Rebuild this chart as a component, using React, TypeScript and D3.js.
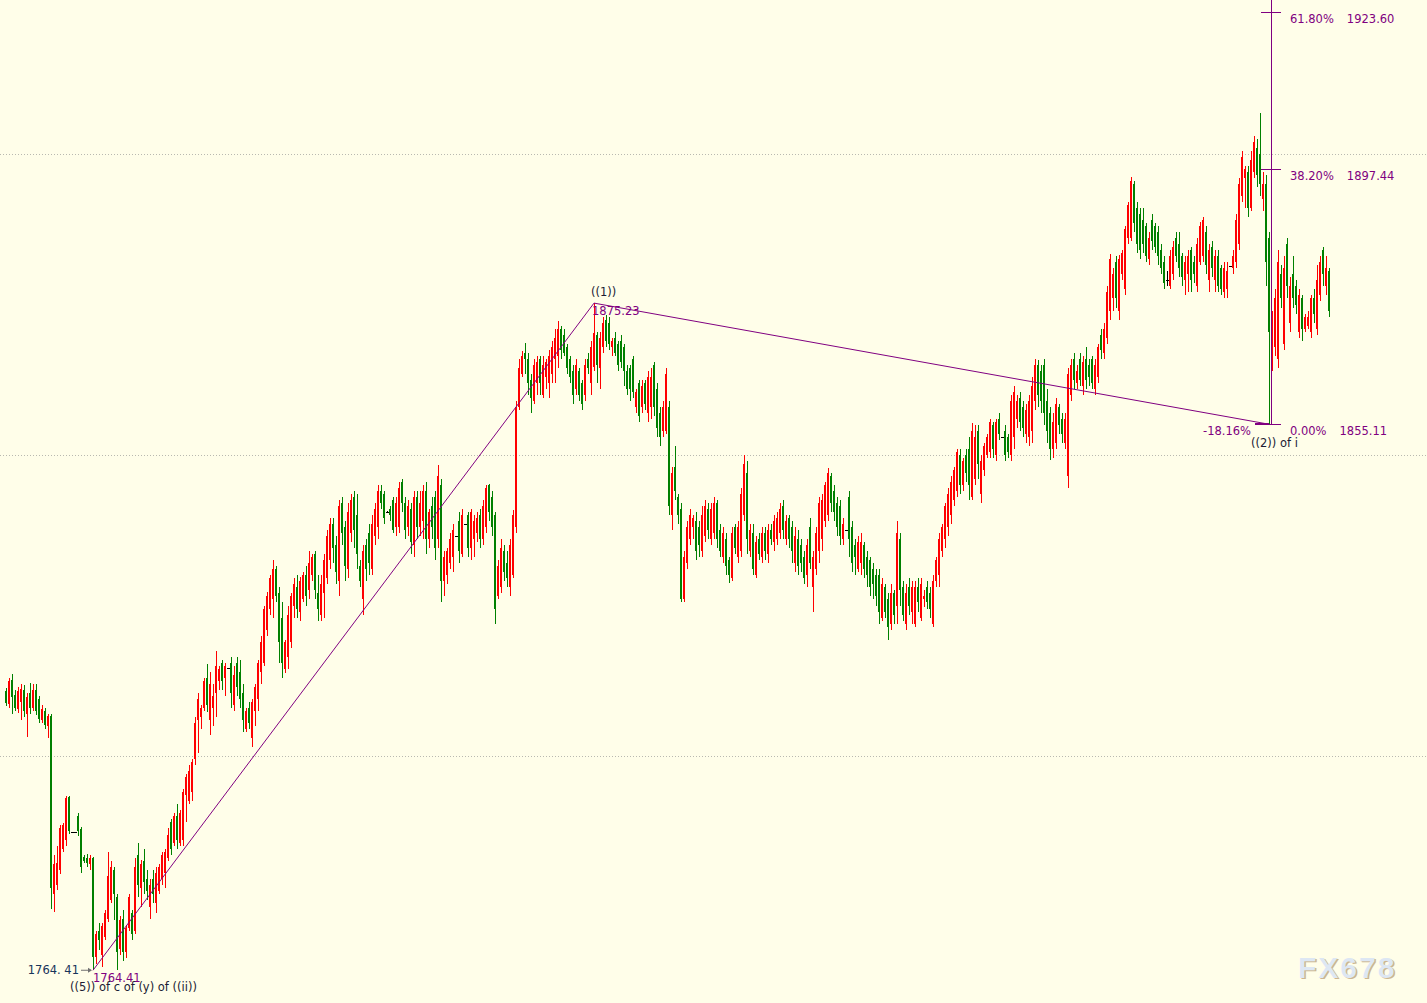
import React from "react";
import * as d3 from "d3";

// candle data (price units)
const opens = [
  1810.8, 1808.6, 1812.6, 1810.2, 1807.8, 1809.0, 1811.0, 1807.0, 1810.5, 1808.0, 1811.0, 1809.5, 1806.0, 1807.5, 1805.0, 1806.6,
  1777, 1778.5, 1781, 1784.5, 1786, 1793.2, 1787.4, 1787.4, 1790, 1787.8, 1783.3, 1783, 1782, 1783,
  1766.6, 1771.0, 1767.0, 1770.0, 1773.0, 1776.0, 1781.0, 1776.5, 1768.0, 1773.0, 1767.5, 1771.5, 1774.0, 1771.0, 1783.5, 1778.0, 1782.5, 1779.5, 1775.0, 1779.5, 1775.5, 1777.5, 1779.5, 1780.5, 1783.0, 1789.0, 1785.5, 1790.0, 1785.5, 1786.0, 1793.5, 1792.5, 1794.0, 1799.5, 1806.0,
  1806.5, 1808, 1813, 1806, 1808, 1810.5, 1812.5, 1815.5, 1813, 1814.6, 1815.5, 1808.5, 1815.5, 1814, 1810.5, 1804.5, 1808, 1803, 1807.5, 1809.5, 1814, 1815.5, 1821, 1824.5, 1826, 1831, 1827, 1823, 1814.5, 1816.5, 1819, 1825, 1828, 1824, 1826, 1830, 1827.5, 1830, 1833.5, 1827, 1823.5, 1827, 1829.5, 1832.5, 1838.5, 1835, 1829, 1842, 1838, 1831, 1837, 1843, 1840, 1831.5, 1826, 1835, 1837, 1831, 1836.5, 1838,
  1844, 1843.5, 1840.5, 1841, 1842.5, 1838, 1838, 1845.5, 1842, 1838, 1841, 1835, 1843, 1838, 1839, 1844, 1836, 1841.5, 1843, 1836, 1845, 1829, 1830, 1832, 1833, 1836.6, 1839, 1833.5, 1838.5, 1840, 1834.5, 1836, 1837, 1840, 1836, 1838, 1845, 1843, 1840, 1826.5, 1828, 1834, 1832, 1828, 1830, 1838, 1858, 1863.5, 1867, 1866, 1862.5, 1859, 1862, 1866, 1860, 1863, 1862, 1863.5, 1866, 1866.5, 1871, 1870, 1868, 1866, 1864, 1861, 1864, 1862, 1860, 1866, 1862, 1864.6,
  1870, 1864.5, 1868, 1872.5, 1872, 1868, 1869.5, 1868.5, 1869, 1868, 1864, 1864.5, 1866, 1858, 1862, 1858, 1862, 1857, 1858, 1865, 1861, 1857, 1854, 1854, 1858, 1840, 1848, 1843, 1841, 1826, 1832, 1836, 1838, 1839, 1838, 1834, 1836.5, 1841, 1836, 1837, 1842, 1837.5, 1833, 1836, 1832.5, 1829.5, 1838, 1833, 1834, 1840, 1847, 1834, 1837, 1830, 1836, 1833, 1837, 1833.5, 1837.5, 1835.5, 1836, 1837, 1841.5, 1836, 1839.5, 1838, 1832, 1836,
  1835, 1833, 1830, 1838, 1828, 1831, 1834, 1836, 1839, 1840, 1846.5, 1844, 1842, 1841.5, 1836, 1837.5, 1843, 1838, 1835, 1831, 1832, 1835, 1833, 1832.5, 1831, 1830, 1830, 1823, 1828, 1826, 1822, 1827, 1825, 1836, 1828, 1822, 1828, 1824, 1822, 1828, 1823, 1826, 1828, 1827, 1822, 1829, 1830, 1834, 1836, 1838, 1840, 1842.5, 1844, 1850, 1845, 1850, 1851, 1843, 1846, 1854, 1843.5, 1847.5, 1850, 1850.5, 1855, 1850, 1856,
  1853, 1854, 1853, 1850, 1853, 1856, 1859.5, 1858, 1853.5, 1853, 1854, 1859, 1865, 1864, 1865, 1859, 1857, 1851, 1852, 1858, 1856, 1852, 1846.5, 1860, 1866, 1862, 1866, 1861.5, 1866, 1865, 1866, 1861, 1863, 1870, 1867, 1869.5, 1874, 1876, 1882, 1874, 1880, 1877.5, 1886, 1886, 1895, 1891, 1890, 1889, 1888, 1882.5, 1889, 1888, 1887, 1884, 1882, 1879, 1878, 1880, 1886, 1885, 1883, 1879, 1880, 1884, 1882, 1878, 1882,
  1883, 1887, 1879, 1884.5, 1879, 1883, 1881, 1877, 1877.5, 1881.4, 1881, 1882, 1885, 1893, 1896, 1897, 1891, 1897, 1901, 1900, 1892.5, 1895, 1886,
  1866, 1868, 1866, 1880, 1868.5, 1885, 1872, 1880, 1878, 1870.5, 1876, 1871, 1871.5, 1870.5, 1876, 1871, 1876.5, 1884, 1878, 1880.5,
];

const highs = [
  1811.3, 1813.0, 1813.6, 1811.0, 1811.5, 1812.0, 1811.8, 1810.5, 1812.2, 1812.0, 1812.0, 1810.0, 1808.5, 1808.0, 1807.0, 1807.0,
  1783.6, 1785, 1788.6, 1788.8, 1793.4, 1793.4, 1787.4, 1787.4, 1790.5, 1788.2, 1783.5, 1783.8, 1783.5, 1783.2,
  1771.0, 1772.3, 1772.2, 1774.5, 1784.0, 1782.5, 1781.5, 1777.0, 1773.5, 1774.5, 1772.0, 1777.0, 1774.5, 1783.0, 1785.5, 1782.8, 1784.5, 1781.0, 1779.5, 1781.0, 1781.5, 1782.0, 1784.0, 1784.5, 1788.0, 1789.5, 1790.5, 1792.0, 1791.0, 1794.5, 1797.0, 1798.5, 1799.5, 1806.5, 1810.5,
  1808.5, 1813, 1815.3, 1814, 1812, 1817.4, 1815, 1816, 1815.5, 1814.6, 1816.5, 1815, 1816.5, 1816, 1812, 1808, 1809, 1809.5, 1812, 1816, 1820, 1825, 1827.2, 1830, 1832.6, 1831.5, 1828, 1825.5, 1819.3, 1825, 1827, 1829.5, 1830, 1829.7, 1830.5, 1831.5, 1834, 1833.5, 1834, 1830, 1830, 1833.5, 1837.5, 1839.5, 1839.5, 1836.5, 1842.5, 1843, 1839, 1842, 1843.5, 1844, 1843.5, 1832.5, 1835, 1836, 1838.5, 1840, 1842, 1845,
  1845, 1844, 1840.7, 1841.5, 1843, 1843, 1845.5, 1846, 1843, 1842.5, 1842, 1844, 1844, 1844, 1845, 1845.5, 1841, 1843, 1844, 1848.3, 1846, 1834, 1834.5, 1837, 1838.5, 1836.6, 1840.5, 1841, 1838.5, 1840.5, 1841, 1840, 1840.5, 1841, 1842.5, 1845, 1845.2, 1844, 1840.5, 1832.5, 1836, 1835, 1834, 1836, 1840.8, 1859, 1866, 1867.2, 1868.6, 1867, 1863.5, 1866, 1866.5, 1866.5, 1866.5, 1866, 1867.5, 1869, 1871, 1872.2, 1871.5, 1871, 1868.5, 1866.5, 1865, 1866, 1864.5, 1862.5, 1866, 1867, 1869, 1875.23,
  1870.5, 1870.5, 1873, 1873.2, 1873, 1869.5, 1870.5, 1869, 1870, 1868.5, 1865, 1865, 1866.5, 1861, 1862.5, 1862.5, 1862.5, 1864, 1864.5, 1865.5, 1862, 1858, 1859, 1864.5, 1859, 1848, 1851.5, 1843.5, 1842, 1834, 1839, 1841, 1840, 1840.5, 1839, 1841.5, 1842.5, 1842, 1842, 1843, 1842.5, 1838.5, 1838, 1837, 1833, 1838, 1838.5, 1839, 1844.5, 1850, 1849, 1838.5, 1838.5, 1836.5, 1837, 1838, 1838, 1838.5, 1838.5, 1840, 1840.5, 1842, 1842.5, 1840, 1840, 1839, 1838, 1837.5,
  1836, 1834, 1836, 1839.5, 1834, 1838, 1843, 1843.5, 1845.5, 1847.8, 1847, 1845, 1843, 1842.5, 1839.5, 1837.5, 1844, 1839, 1836, 1836.5, 1837, 1835.5, 1834, 1833, 1832, 1831, 1831, 1829.5, 1828.5, 1827, 1828.5, 1827.5, 1839, 1837, 1829, 1828.5, 1829.5, 1829, 1829, 1829.5, 1829.5, 1827.5, 1829, 1828, 1830, 1833, 1837, 1838.5, 1842, 1844.5, 1846.5, 1848, 1851, 1851, 1849.5, 1851, 1853, 1855.3, 1855, 1855, 1850, 1852, 1853.5, 1856, 1855.5, 1856, 1857,
  1853, 1855, 1853.5, 1860, 1861.5, 1860, 1860.5, 1859, 1858.5, 1860, 1863, 1866, 1865.7, 1865, 1866, 1861, 1858, 1857, 1859.5, 1858.5, 1857, 1857, 1864.5, 1866, 1867, 1865, 1867, 1866.5, 1868, 1866, 1866.5, 1866, 1868.5, 1871, 1872, 1878, 1883.4, 1881, 1883, 1883.2, 1884, 1888, 1892, 1896.2, 1895.5, 1892, 1891, 1891, 1888.5, 1887, 1890, 1888.5, 1888, 1885, 1883, 1880.5, 1884, 1885.5, 1887, 1887, 1883.5, 1883, 1884, 1884.5, 1883, 1886, 1888.7,
  1889.5, 1888, 1885, 1885.5, 1884, 1884, 1881.5, 1882, 1882, 1881.4, 1884, 1890, 1896, 1900.5, 1898, 1898, 1900.5, 1903, 1902.5, 1906.8, 1897, 1896.5, 1887,
  1874, 1877.5, 1884, 1881.5, 1883, 1886, 1879.5, 1883, 1879, 1877.5, 1876.5, 1873.5, 1874, 1876.5, 1877.5, 1881.5, 1883, 1884.5, 1883, 1881,
];

const lows = [
  1808.3, 1808.0, 1807.0, 1807.5, 1807.2, 1806.0, 1806.5, 1803.2, 1807.0, 1807.5, 1806.8, 1805.5, 1805.5, 1804.5, 1803.0, 1774.6,
  1774.1, 1777.8, 1780.4, 1784, 1785, 1787, 1787.4, 1787.4, 1786.7, 1780.6, 1782.2, 1781.5, 1781, 1764.41,
  1765.5, 1767.8, 1764.9, 1769.5, 1772.5, 1775.5, 1772.8, 1764.5, 1767.0, 1766.0, 1766.5, 1771.0, 1769.5, 1770.5, 1776.5, 1775.0, 1777.0, 1776.0, 1773.0, 1775.5, 1774.0, 1777.0, 1778.5, 1778.0, 1782.5, 1783.5, 1785.0, 1784.5, 1785.0, 1785.0, 1789.0, 1792.0, 1792.5, 1798.5, 1800.5,
  1804.5, 1807.5, 1807.3, 1803.5, 1805, 1806.5, 1811, 1811, 1810, 1814.6, 1808, 1807.5, 1810, 1808, 1804, 1804, 1804.5, 1801.5, 1805, 1807.5, 1812, 1815, 1820, 1823.5, 1823, 1825.5, 1815.5, 1813, 1813.8, 1814.5, 1818, 1823, 1823, 1822.5, 1825.5, 1825, 1826, 1829, 1826, 1822.5, 1822.5, 1823, 1828.5, 1831, 1832, 1828.5, 1826.5, 1835, 1829, 1829.5, 1835.5, 1834.5, 1831, 1828, 1823.4, 1829, 1830, 1830, 1835, 1836,
  1841, 1838.5, 1840.3, 1839, 1837, 1836.5, 1837, 1840.5, 1836, 1836.5, 1833.5, 1833, 1836, 1836.5, 1836, 1833.5, 1834.5, 1836, 1832.5, 1834.5, 1825.5, 1826.5, 1828.5, 1831, 1830.5, 1836.6, 1832, 1833, 1838.5, 1833, 1832.5, 1833, 1835.5, 1834.5, 1835, 1837, 1839, 1836.5, 1822, 1826, 1827, 1829, 1828, 1826.5, 1829.5, 1837, 1857.5, 1863, 1863.5, 1860, 1857, 1858.5, 1860, 1860, 1859.5, 1861, 1859.5, 1862, 1862, 1864.5, 1866, 1866.5, 1863.5, 1862, 1858.5, 1860, 1859, 1857.5, 1859, 1863.5, 1860, 1864,
  1862, 1861, 1867, 1868, 1867.5, 1866.5, 1866.5, 1864, 1864.5, 1861.5, 1860, 1859, 1859.5, 1857, 1855.5, 1857, 1857.5, 1855.5, 1856, 1856.5, 1853, 1851.5, 1853, 1853.5, 1840, 1837.5, 1842.5, 1838.5, 1825.5, 1825.5, 1831, 1835, 1836, 1832.5, 1833, 1833, 1835.5, 1836, 1835, 1836, 1834.5, 1833, 1832, 1830, 1828.8, 1829, 1833.5, 1832, 1833, 1839, 1833.5, 1833, 1830, 1829.6, 1832.5, 1832, 1832.5, 1832, 1835, 1834, 1835, 1836, 1836, 1835, 1834.5, 1832, 1830.5, 1830,
  1830.5, 1828.5, 1828, 1831, 1823.9, 1830, 1832, 1834, 1838, 1839, 1840.5, 1839, 1836.5, 1835, 1835, 1837.5, 1833, 1830.5, 1830, 1830.5, 1830, 1829.5, 1828, 1826.5, 1826, 1825, 1822, 1822.5, 1823, 1819.3, 1821, 1822, 1822, 1825, 1822.5, 1821, 1823.5, 1822, 1821.5, 1824, 1822.5, 1824.8, 1824.5, 1823, 1821.5, 1828, 1828, 1833, 1834.5, 1836.5, 1838.5, 1841.5, 1843, 1843.5, 1844, 1845.5, 1842.5, 1842.5, 1845, 1846, 1842, 1846.5, 1849.5, 1849.5, 1849.5, 1849, 1852.5,
  1853, 1849, 1849.5, 1849, 1851, 1854.5, 1854, 1853, 1852, 1851.5, 1852, 1857.5, 1858, 1857, 1855, 1852, 1849.2, 1849.5, 1851, 1853.5, 1852, 1851, 1844.6, 1859, 1861, 1861, 1861.5, 1860, 1861, 1861.5, 1861, 1860, 1862, 1866, 1866, 1868.5, 1872.5, 1874, 1874.5, 1872.5, 1879, 1876.5, 1885, 1885.5, 1887, 1883.5, 1882.5, 1883.5, 1882, 1881.5, 1884, 1883.5, 1881.5, 1880, 1877.5, 1878, 1877.5, 1879, 1882, 1879.5, 1878, 1876.5, 1877, 1877, 1878.5, 1877, 1881.5,
  1882, 1880, 1877, 1879.5, 1877, 1877, 1876.5, 1876, 1876, 1881.4, 1880, 1881, 1884, 1892, 1891, 1889.5, 1890.5, 1896, 1894.5, 1893, 1890.5, 1878, 1855.11,
  1864, 1866.5, 1864.5, 1874.5, 1867.5, 1876, 1870.5, 1874.5, 1873.5, 1869.5, 1869, 1870.5, 1871, 1869.5, 1872, 1870, 1875.5, 1878, 1876.5, 1873,
];

const closes = [
  1808.8, 1812.4, 1809.8, 1808.0, 1810.8, 1811.2, 1807.5, 1809.8, 1808.0, 1811.0, 1807.5, 1806.2, 1807.8, 1805.2, 1806.6, 1778.0,
  1782, 1782.2, 1788, 1788.5, 1793, 1787.6, 1787.4, 1787.4, 1787.5, 1781.5, 1782.6, 1782.2, 1783, 1766.6,
  1770.5, 1769.5, 1771.8, 1774.0, 1780.0, 1781.5, 1777.0, 1767.5, 1772.8, 1767.5, 1771.5, 1776.5, 1770.5, 1781.5, 1778.5, 1782.0, 1779.0, 1777.5, 1778.5, 1777.0, 1780.5, 1781.5, 1783.5, 1784.0, 1786.8, 1784.5, 1790.0, 1786.0, 1790.5, 1794.0, 1796.5, 1797.5, 1799.0, 1805.5, 1809.5,
  1808, 1812.5, 1808.5, 1812, 1810, 1815, 1814.5, 1812.5, 1815, 1814.6, 1810.5, 1813.5, 1811.5, 1809.5, 1806, 1807.5, 1805.5, 1809, 1811.5, 1815.5, 1819, 1824.5, 1826.5, 1829.5, 1831, 1826.5, 1819, 1815.5, 1819, 1823.5, 1826.5, 1828.5, 1824.5, 1829, 1830, 1826.5, 1832, 1833, 1827.5, 1824.5, 1828.5, 1832.5, 1836.5, 1838.5, 1834.5, 1830.5, 1841.5, 1837, 1831.5, 1840.5, 1842.5, 1837.5, 1833.5, 1829, 1834, 1831, 1832, 1838.5, 1841, 1844,
  1842, 1839.5, 1840.5, 1840, 1837.5, 1842, 1844.5, 1842, 1837.5, 1841.5, 1835.5, 1843, 1838, 1842, 1844, 1836, 1840.5, 1838, 1834.5, 1846.5, 1829, 1833, 1834, 1836, 1837.5, 1836.6, 1834, 1840, 1838.5, 1834.5, 1840.5, 1839, 1839.5, 1836, 1841.5, 1844.5, 1840.5, 1838, 1824.5, 1831.5, 1834.5, 1830.5, 1829.5, 1835, 1840, 1858, 1864.5, 1866.5, 1866, 1862, 1859.5, 1865, 1865.5, 1862, 1865, 1865.5, 1866.5, 1868, 1869.5, 1871, 1867.5, 1867, 1864.5, 1863, 1860, 1865, 1860, 1858.5, 1865, 1864.5, 1868, 1870.3,
  1865, 1869.5, 1872, 1869, 1868.5, 1869, 1867, 1865, 1865.5, 1864, 1861, 1861, 1860.5, 1860.5, 1856.5, 1861.5, 1858.5, 1863, 1863, 1858, 1854.5, 1853, 1858, 1863.5, 1841.5, 1847, 1844, 1840, 1826, 1833, 1838, 1840, 1839.5, 1834, 1835, 1840, 1841.5, 1837.5, 1841, 1842, 1836, 1834, 1837, 1831.5, 1830, 1837, 1834.5, 1838, 1843.5, 1848.5, 1836, 1837.5, 1831, 1835.5, 1833.5, 1837, 1834, 1837.5, 1836, 1839, 1839.5, 1841, 1837.5, 1839, 1836, 1834, 1836.5, 1831.5,
  1832, 1829.5, 1835, 1832, 1833, 1837, 1842, 1842.5, 1845, 1847, 1842, 1840.5, 1838, 1836.5, 1838.5, 1837.5, 1836, 1832, 1833, 1835.5, 1835.5, 1831, 1830, 1828, 1828.5, 1826.5, 1824, 1828.5, 1824, 1821.5, 1827, 1823.5, 1837, 1827.5, 1823.5, 1827, 1825, 1828, 1828, 1825.5, 1828.5, 1826.5, 1825.5, 1824.5, 1829, 1832.5, 1836, 1838, 1841.5, 1843.5, 1845.5, 1847.5, 1850.5, 1845, 1849, 1847, 1845, 1854, 1853, 1848.5, 1849, 1851.5, 1853, 1855.5, 1851, 1855.5, 1853.5,
  1853, 1850, 1850.5, 1859, 1860.5, 1859, 1855.5, 1854.5, 1857.5, 1859, 1861.5, 1865, 1860, 1859, 1857, 1854, 1851, 1855.5, 1858.5, 1855, 1853.5, 1856, 1863.5, 1865, 1862.5, 1864, 1862.5, 1865.5, 1862.5, 1863, 1862, 1865, 1868, 1867.5, 1871, 1877, 1882.5, 1880, 1876, 1882.5, 1883.5, 1887.5, 1891.5, 1895.5, 1888.5, 1885, 1884, 1885, 1883, 1886, 1885.5, 1884.5, 1883, 1881, 1878.5, 1879, 1883, 1884.5, 1883, 1881, 1879.5, 1882, 1883, 1879, 1880, 1885, 1888,
  1889, 1881.5, 1884, 1881, 1883, 1878, 1877.5, 1881, 1880.5, 1881.4, 1883, 1889, 1895, 1899.5, 1897.5, 1891, 1899, 1902, 1896.5, 1895, 1895, 1882, 1870.5,
  1872, 1876, 1882, 1876, 1881, 1878, 1878, 1876, 1875, 1876.5, 1871, 1873, 1873, 1876, 1873.5, 1879, 1882, 1880, 1881, 1874,
];

const gridLevels = [1800, 1850, 1900];

// wave anchors
const lowIndex = 29;
const lowPrice = 1764.41;
const peakIndex = 196;
const peakPrice = 1875.23;
const endIndex = 421;
const endPrice = 1855.11;

// fibonacci expansion levels
const fibPercents = ["61.80%", "38.20%", "0.00%"];
const fibValues = [1923.6, 1897.44, 1855.11];
const retraceLabel = "-18.16%";

const W = 1427;
const H = 1003;
const FONT = "'DejaVu Sans', Verdana, sans-serif";

export default function App() {
  const n = closes.length;
  const x = d3.scaleLinear().domain([0, n - 1]).range([6, 6 + 3 * (n - 1)]);
  const y = d3.scaleLinear().domain([1800, 1900]).range([756, 154]);

  const xl = x(lowIndex);
  const yl = y(lowPrice);
  const xp = x(peakIndex);
  const yp = y(peakPrice);
  const xe = x(endIndex);
  const ye = y(endPrice);
  const fibX = xe + 2;

  return (
    <svg
      width={W}
      height={H}
      style={{ position: "absolute", left: 0, top: 0, display: "block", background: "#fffee9" }}
    >
      <rect width={W} height={H} fill="#fffee9" />

      {gridLevels.map((g) => (
        <line
          key={g}
          x1={0}
          x2={W}
          y1={Math.round(y(g)) + 0.5}
          y2={Math.round(y(g)) + 0.5}
          stroke="#b9b9b0"
          strokeDasharray="1 2"
        />
      ))}

      <g shapeRendering="crispEdges">
        {closes.map((c, i) => {
          const o = opens[i];
          const cx = Math.round(x(i));
          const color = c > o ? "#ff0000" : c < o ? "#008000" : "#000000";
          const yh = Math.round(y(highs[i]));
          const ylo = Math.round(y(lows[i]));
          const yTop = Math.round(y(Math.max(o, c)));
          const yBot = Math.round(y(Math.min(o, c)));
          return (
            <g key={i} fill={color}>
              <rect x={cx} y={yh} width={1} height={Math.max(1, ylo - yh)} />
              <rect x={cx - 1} y={yTop} width={c === o ? 3 : 2} height={Math.max(1, yBot - yTop)} />
            </g>
          );
        })}
      </g>

      {/* wave lines */}
      <line x1={xl} y1={yl} x2={xp} y2={yp} stroke="#800080" strokeWidth={1} />
      <line x1={xp} y1={yp} x2={xe} y2={ye} stroke="#800080" strokeWidth={1} />

      {/* fibonacci tool */}
      <g shapeRendering="crispEdges" stroke="#800080">
        <line x1={fibX + 0.5} x2={fibX + 0.5} y1={0} y2={ye} />
        {fibValues.map((v) => (
          <line key={v} x1={xe - 8} x2={xe + 12} y1={Math.round(y(v)) + 0.5} y2={Math.round(y(v)) + 0.5} />
        ))}
        <line x1={xe - 14} x2={xe} y1={Math.round(ye) - 0.5} y2={Math.round(ye) - 0.5} strokeWidth={2} />
      </g>
      <g fontFamily={FONT} fontSize={11.5} fill="#800080">
        {fibValues.map((v, k) => (
          <text key={v} x={xe + 21} y={y(v) + 11}>
            {fibPercents[k]}
            <tspan dx={13}>{v.toFixed(2)}</tspan>
          </text>
        ))}
        <text x={xe - 18} y={ye + 11} textAnchor="end">
          {retraceLabel}
        </text>
        <text x={xp - 2} y={yp + 11.5}>
          {peakPrice.toFixed(2)}
        </text>
        <text x={xl} y={yl + 12}>
          {lowPrice.toFixed(2)}
        </text>
      </g>

      <g fontFamily={FONT} fontSize={11.5} fill="#1c1c34">
        <text x={xp - 3} y={yp - 7}>
          ((1))
        </text>
        <text x={xe - 18} y={ye + 23}>
          ((2)) of i
        </text>
        <text x={xl - 23} y={yl + 21}>
          ((5)) of c of (y) of ((ii))
        </text>
      </g>

      {/* price marker at the low */}
      <text x={xl - 14} y={yl + 4} fontFamily={FONT} fontSize={11.5} fill="#17345a" textAnchor="end">
        1764. 41
      </text>
      <line x1={xl - 12} x2={xl - 2} y1={yl} y2={yl} stroke="#707070" />
      <path d={`M${xl - 1},${yl} l-4,-2.5 l0,5 z`} fill="#707070" />

      {/* watermark */}
      <g fontFamily="'Liberation Sans', Arial, sans-serif" fontSize={30} fontWeight={700} letterSpacing={2}>
        <text x={1299.5} y={979} fill="#cdb690">
          FX678
        </text>
        <text x={1298} y={977.5} fill="#dde7f3">
          FX678
        </text>
      </g>
    </svg>
  );
}
